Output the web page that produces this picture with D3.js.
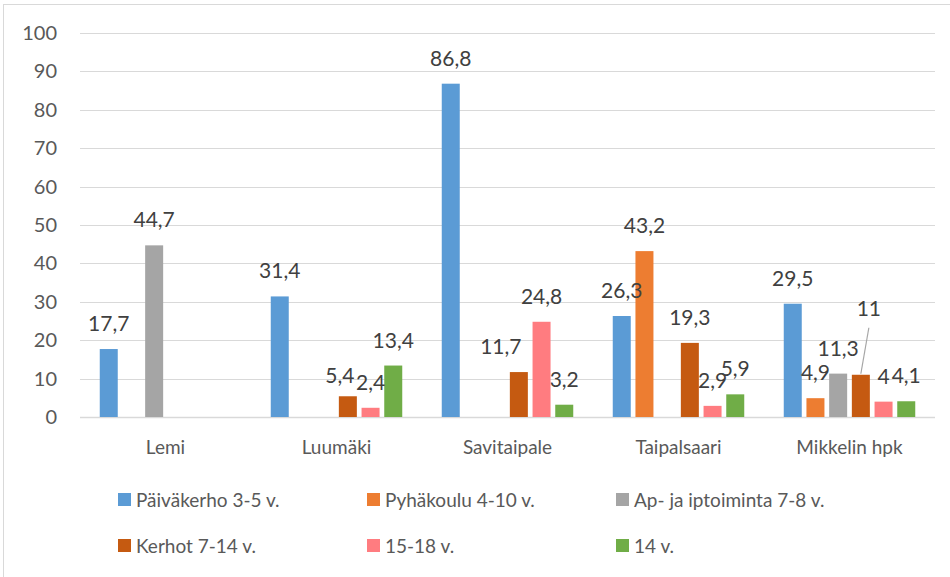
<!DOCTYPE html>
<html>
<head>
<meta charset="utf-8">
<script src="https://cdn.jsdelivr.net/npm/d3@7"></script>
<style>
  body { margin: 0; background: #fff; overflow: hidden; }
  text { font-family: Lato, "Open Sans", sans-serif; }
</style>
</head>
<body>
<svg id="chart" width="950" height="577"></svg>
<script>
const categories = ["Lemi", "Luumäki", "Savitaipale", "Taipalsaari", "Mikkelin hpk"];
const seriesNames = ["Päiväkerho 3-5 v.", "Pyhäkoulu 4-10 v.", "Ap- ja iptoiminta 7-8 v.", "Kerhot 7-14 v.", "15-18 v.", "14 v."];
const paivakerho = [17.7, 31.4, 86.8, 26.3, 29.5];
const pyhakoulu = [0, 0, 0, 43.2, 4.9];
const aptoiminta = [44.7, 0, 0, 0, 11.3];
const kerhot = [0, 5.4, 11.7, 19.3, 11];
const nuoret = [0, 2.4, 24.8, 2.9, 4];
const neljatoista = [0, 13.4, 3.2, 5.9, 4.1];
const yTicks = [0, 10, 20, 30, 40, 50, 60, 70, 80, 90, 100];

const colors = ["#5b9bd5", "#ed7d31", "#a5a5a5", "#c55a11", "#ff7c80", "#70ad47"];
const allValues = [paivakerho, pyhakoulu, aptoiminta, kerhot, nuoret, neljatoista];

// labels that were dragged away from the default spot in the original
const nudge = {
  "Luumäki|3": { dx: -8, dy: 5 },
  "Savitaipale|3": { dx: -18, dy: 0 },
  "Mikkelin hpk|3": { dx: 8, dy: -41, leader: true }
};

const svg = d3.select("#chart");

// outer frame
svg.append("rect")
  .attr("x", 3.5).attr("y", 4.5)
  .attr("width", 960).attr("height", 600)
  .attr("fill", "none").attr("stroke", "#d9d9d9");

const x0 = d3.scaleBand().domain(categories).range([80, 935]);
const x1 = d3.scaleBand().domain(d3.range(seriesNames.length))
  .range([19.75, 151.25]).paddingInner(0.207);
const y = d3.scaleLinear().domain([0, 100]).range([417, 33]);

// grid
svg.append("g")
  .selectAll("line")
  .data(yTicks)
  .join("line")
  .attr("x1", 80).attr("x2", 935)
  .attr("y1", (d) => Math.round(y(d)) + 0.5)
  .attr("y2", (d) => Math.round(y(d)) + 0.5)
  .attr("stroke", "#d9d9d9")
  .attr("stroke-width", (d) => (d === 0 ? 1.5 : 1.2));

// y tick labels
svg.append("g")
  .selectAll("text")
  .data(yTicks)
  .join("text")
  .attr("x", 57)
  .attr("y", (d) => y(d))
  .attr("dy", "0.35em")
  .attr("text-anchor", "end")
  .attr("font-size", 20)
  .attr("fill", "#595959")
  .text((d) => d);

// category labels
svg.append("g")
  .selectAll("text")
  .data(categories)
  .join("text")
  .attr("x", (d) => x0(d) + x0.bandwidth() / 2)
  .attr("y", 447)
  .attr("dy", "0.35em")
  .attr("text-anchor", "middle")
  .attr("font-size", 19)
  .attr("fill", "#595959")
  .text((d) => d);

const rows = [];
categories.forEach((c, ci) => {
  allValues.forEach((vals, si) => {
    rows.push({ cat: c, s: si, v: vals[ci] });
  });
});
const shown = rows.filter((d) => d.v > 0);

// bars
svg.append("g")
  .selectAll("rect")
  .data(shown)
  .join("rect")
  .attr("x", (d) => x0(d.cat) + x1(d.s))
  .attr("y", (d) => y(d.v))
  .attr("width", x1.bandwidth())
  .attr("height", (d) => y(0) - y(d.v))
  .attr("fill", (d) => colors[d.s]);

// leader lines
svg.append("g")
  .selectAll("line")
  .data(shown.filter((d) => nudge[d.cat + "|" + d.s] && nudge[d.cat + "|" + d.s].leader))
  .join("line")
  .attr("x1", (d) => x0(d.cat) + x1(d.s) + x1.bandwidth() / 2 + nudge[d.cat + "|" + d.s].dx)
  .attr("y1", (d) => y(d.v) - 18 + nudge[d.cat + "|" + d.s].dy + 12)
  .attr("x2", (d) => x0(d.cat) + x1(d.s) + x1.bandwidth() / 2)
  .attr("y2", (d) => y(d.v) - 1)
  .attr("stroke", "#a6a6a6")
  .attr("stroke-width", 1.2);

// value labels
svg.append("g")
  .selectAll("text")
  .data(shown)
  .join("text")
  .attr("x", (d) => {
    const n = nudge[d.cat + "|" + d.s];
    return x0(d.cat) + x1(d.s) + x1.bandwidth() / 2 + (n ? n.dx : 0);
  })
  .attr("y", (d) => {
    const n = nudge[d.cat + "|" + d.s];
    return y(d.v) - 18 + (n ? n.dy : 0);
  })
  .attr("text-anchor", "middle")
  .attr("font-size", 21)
  .attr("fill", "#404040")
  .text((d) => String(d.v).replace(".", ","));

// legend
const legendX = [118, 367, 616];
const legendY = [500, 546];
const legend = svg.append("g")
  .selectAll("g")
  .data(seriesNames)
  .join("g")
  .attr("transform", (d, i) => `translate(${legendX[i % 3]},${legendY[Math.floor(i / 3)]})`);
legend.append("rect")
  .attr("x", 0).attr("y", -7)
  .attr("width", 13).attr("height", 13)
  .attr("fill", (d, i) => colors[i]);
legend.append("text")
  .attr("x", 18)
  .attr("y", 0)
  .attr("dy", "0.35em")
  .attr("font-size", 19)
  .attr("fill", "#595959")
  .text((d) => d);
</script>
</body>
</html>
